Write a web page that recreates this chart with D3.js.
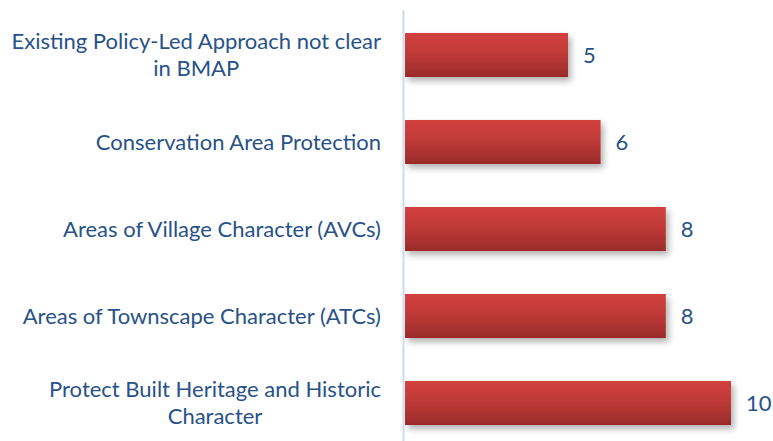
<!DOCTYPE html>
<html>
<head>
<meta charset="utf-8">
<script src="https://cdn.jsdelivr.net/npm/d3@7"></script>
<style>
  html, body { margin: 0; padding: 0; background: #fff; }
  svg { display: block; }
  text { font-family: Lato, "Open Sans", sans-serif; }
</style>
</head>
<body>
<svg id="chart" width="773" height="441"></svg>
<script>
// Category labels (line breaks as in the wrapped axis labels)
const categories = [
  ["Existing Policy-Led Approach not clear", "in BMAP"],
  ["Conservation Area Protection"],
  ["Areas of Village Character (AVCs)"],
  ["Areas of Townscape Character (ATCs)"],
  ["Protect Built Heritage and Historic", "Character"]
];
const values = [5, 6, 8, 8, 10];

const W = 773, H = 441;
const x0 = 405;
const textColor = "#285288";
const svg = d3.select("#chart");

const x = d3.scaleLinear().domain([0, 10]).range([x0, 731]);
const y = d3.scaleBand()
  .domain(d3.range(categories.length))
  .range([11.5, 446.5])
  .paddingInner(0.494)
  .paddingOuter(0.247);

const defs = svg.append("defs");
const grad = defs.append("linearGradient")
  .attr("id", "barGrad").attr("x1", 0).attr("y1", 0).attr("x2", 0).attr("y2", 1);
grad.append("stop").attr("offset", "0%").attr("stop-color", "#d2403d");
grad.append("stop").attr("offset", "45%").attr("stop-color", "#c03a38");
grad.append("stop").attr("offset", "100%").attr("stop-color", "#9a2b2a");

const shadow = defs.append("filter").attr("id", "shadow")
  .attr("x", "-10%").attr("y", "-20%").attr("width", "130%").attr("height", "160%");
shadow.append("feDropShadow")
  .attr("dx", 3).attr("dy", 4).attr("stdDeviation", 3)
  .attr("flood-color", "#000").attr("flood-opacity", 0.3);

// Bars
svg.append("g").selectAll("rect")
  .data(values)
  .join("rect")
  .attr("x", x(0))
  .attr("y", (d, i) => y(i))
  .attr("width", d => x(d) - x(0))
  .attr("height", y.bandwidth())
  .attr("fill", "url(#barGrad)")
  .attr("filter", "url(#shadow)");

// Vertical category axis line
svg.append("line")
  .attr("x1", 403.5).attr("x2", 403.5)
  .attr("y1", 10).attr("y2", H)
  .attr("stroke", "#c9dcf0").attr("stroke-width", 2);

// Value labels
svg.append("g").selectAll("text")
  .data(values)
  .join("text")
  .attr("x", d => x(d) + 15)
  .attr("y", (d, i) => y(i) + y.bandwidth() / 2)
  .attr("dy", "0.35em")
  .attr("fill", textColor)
  .attr("font-size", 22)
  .text(d => d);

// Category labels: each block is right-aligned to the axis, its lines centred on one another
const labelG = svg.append("g");
const lineH = 27;
categories.forEach((lines, i) => {
  const cy = y(i) + y.bandwidth() / 2;
  const g = labelG.append("g");
  const texts = lines.map((ln, k) => g.append("text")
    .attr("y", cy + (k - (lines.length - 1) / 2) * lineH)
    .attr("dy", "0.35em")
    .attr("fill", textColor)
    .attr("font-size", 22)
    .attr("text-anchor", "middle")
    .text(ln));
  const widths = texts.map(t => t.node().getComputedTextLength());
  const maxW = Math.max(...widths);
  const cx = 381 - maxW / 2;
  texts.forEach(t => t.attr("x", cx));
});
</script>
</body>
</html>
